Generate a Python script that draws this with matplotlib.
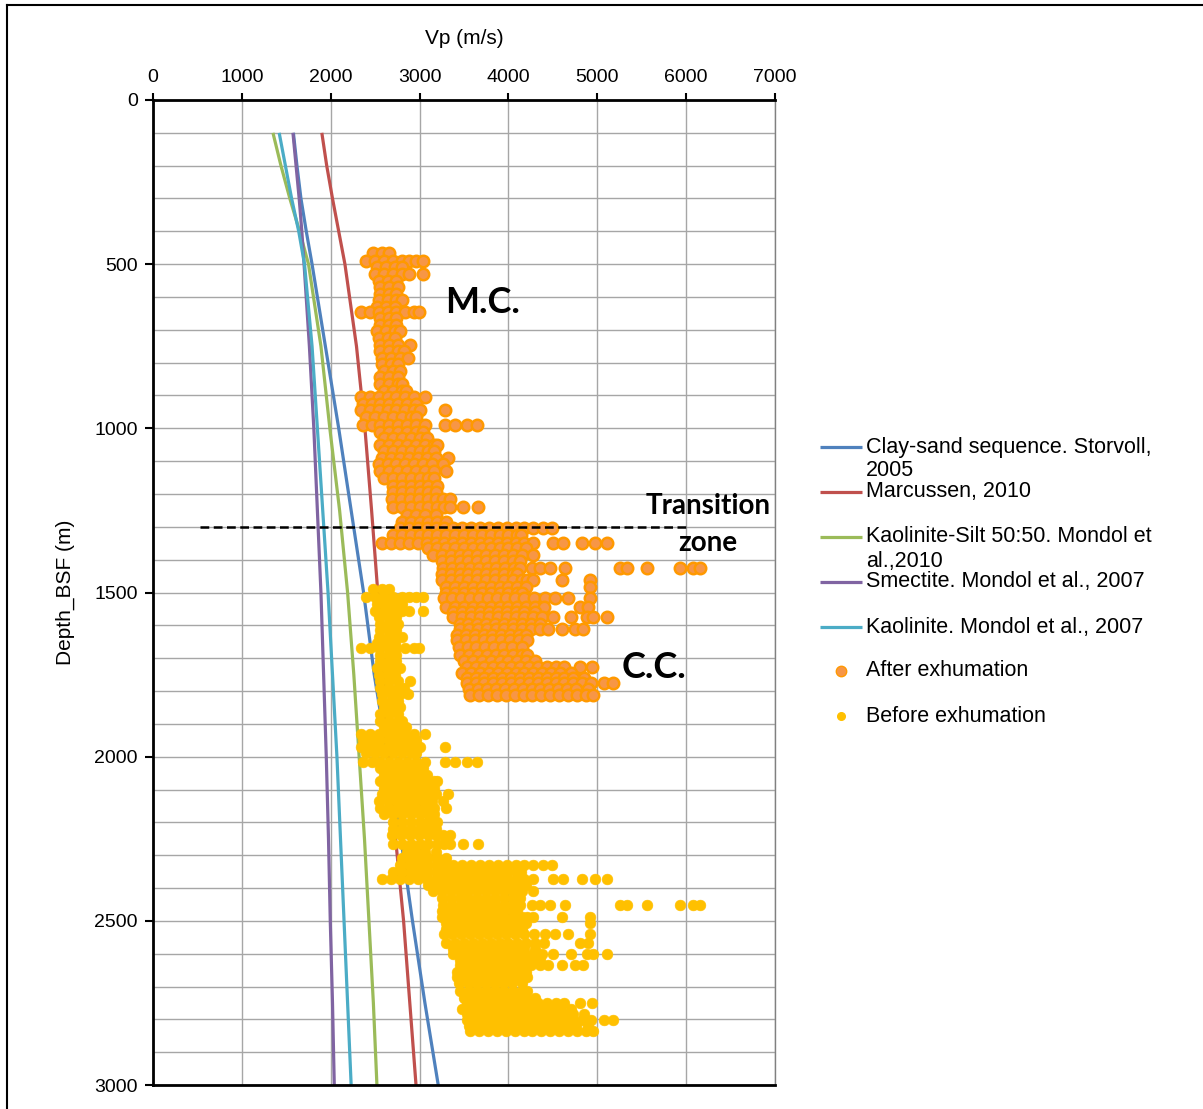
import matplotlib
matplotlib.use("Agg")
import matplotlib.pyplot as plt
from matplotlib.lines import Line2D
import numpy as np

plt.rcParams['font.family'] = ['Liberation Sans', 'DejaVu Sans']

# ---------------- data ----------------
curve_depth = [100, 200, 300, 400, 500, 750, 1000, 1250, 1500, 1750, 2000, 2250, 2500, 2750, 3000]
vp_storvoll = [1580, 1620, 1665, 1725, 1790, 1940, 2090, 2230, 2370, 2490, 2640, 2790, 2920, 3060, 3210]
vp_marcussen = [1900, 1955, 2020, 2090, 2160, 2290, 2385, 2460, 2530, 2590, 2650, 2730, 2820, 2890, 2960]
vp_kaol_silt = [1350, 1440, 1540, 1650, 1750, 1890, 1990, 2100, 2190, 2260, 2320, 2380, 2430, 2480, 2520]
vp_smectite = [1575, 1610, 1645, 1675, 1700, 1760, 1810, 1850, 1890, 1920, 1950, 1975, 1995, 2020, 2040]
vp_kaolinite = [1420, 1490, 1560, 1640, 1705, 1790, 1850, 1910, 1970, 2020, 2070, 2110, 2150, 2190, 2230]

curve_labels = [["Clay-sand sequence. Storvoll,", "2005"],
                ["Marcussen, 2010"],
                ["Kaolinite-Silt 50:50. Mondol et", "al.,2010"],
                ["Smectite. Mondol et al., 2007"],
                ["Kaolinite. Mondol et al., 2007"]]
scatter_labels = ["After exhumation", "Before exhumation"]

# measured Vp rows (after exhumation): depth of row (m) and Vp values (m/s) of the dots in that row
row_depth = [465, 490, 510, 530, 550, 570, 590, 610, 630, 645, 665, 685, 705, 725, 745, 765, 785,
             805, 825, 845, 865, 885, 905, 925, 945, 965, 990, 1010, 1030, 1050, 1070, 1090, 1110,
             1130, 1150, 1175, 1195, 1215, 1240, 1265, 1285, 1305, 1325, 1348, 1365, 1385, 1405,
             1426, 1445, 1462, 1482, 1500, 1516, 1543, 1560, 1575, 1595, 1610, 1630, 1645, 1665,
             1690, 1710, 1726, 1745, 1760, 1777, 1795, 1812]
row_vp = [
    [2480, 2580, 2660],
    [2400, 2500, 2600, 2700, 2800, 2880, 2960, 3040],
    [2520, 2620, 2720, 2800],
    [2500, 2600, 2700, 2800, 2880, 3040],
    [2540, 2640, 2740],
    [2560, 2660, 2760],
    [2560, 2660, 2740],
    [2540, 2640, 2740, 2800],
    [2520, 2620, 2720],
    [2340, 2440, 2540, 2640, 2740, 2840, 2940, 2990],
    [2560, 2660, 2740],
    [2560, 2660, 2740],
    [2520, 2620, 2720, 2780],
    [2540, 2640, 2720],
    [2560, 2660, 2760, 2890],
    [2560, 2660, 2760, 2820],
    [2580, 2680, 2780, 2870],
    [2580, 2680, 2760],
    [2600, 2700, 2780],
    [2560, 2660, 2760],
    [2560, 2660, 2760, 2800],
    [2600, 2700, 2800, 2850],
    [2340, 2440, 2540, 2640, 2740, 2840, 2940, 3060],
    [2360, 2460, 2560, 2660, 2760, 2860, 2960],
    [2340, 2440, 2540, 2640, 2740, 2840, 2940, 3000, 3290],
    [2400, 2500, 2600, 2700, 2800, 2900, 2960],
    [2360, 2460, 2560, 2660, 2760, 2860, 2960, 3060, 3290, 3400, 3530, 3650],
    [2560, 2660, 2760, 2860, 2960, 3040],
    [2600, 2700, 2800, 2900, 3000, 3080],
    [2560, 2660, 2760, 2860, 2960, 3060, 3160, 3200],
    [2600, 2700, 2800, 2900, 3000, 3100, 3160],
    [2580, 2680, 2780, 2880, 2980, 3080, 3180, 3320],
    [2540, 2640, 2740, 2840, 2940, 3040, 3140, 3260],
    [2560, 2660, 2760, 2860, 2960, 3060, 3160, 3300],
    [2600, 2700, 2800, 2900, 3000, 3100, 3160],
    [2700, 2800, 2900, 3000, 3100, 3200],
    [2700, 2800, 2900, 3000, 3100, 3180],
    [2690, 2790, 2890, 2990, 3090, 3190, 3260, 3340],
    [2700, 2800, 2900, 3000, 3100, 3200, 3280, 3340, 3490, 3660],
    [2860, 2960, 3060, 3180],
    [2800, 2900, 3000, 3100, 3200, 3300],
    [2780, 2880, 2980, 3080, 3180, 3280, 3380, 3480, 3580, 3680, 3780, 3880, 3980, 4080, 4180, 4280, 4390, 4490],
    [2700, 2800, 2900, 3000, 3100, 3200, 3300, 3400, 3500, 3600, 3700, 3800, 3900, 4000, 4100, 4140],
    [2580, 2680, 2780, 2880, 2980, 3080, 3180, 3280, 3380, 3480, 3580, 3680, 3780, 3880, 3980, 4080, 4180, 4280,
     4500, 4615, 4830, 4975, 5110],
    [3100, 3200, 3300, 3400, 3500, 3600, 3700, 3800, 3900, 4000, 4100, 4200],
    [3150, 3250, 3350, 3450, 3550, 3650, 3750, 3850, 3950, 4050, 4150, 4280],
    [3250, 3350, 3450, 3550, 3650, 3750, 3850, 3950, 4050, 4130],
    [3265, 3365, 3465, 3565, 3665, 3765, 3865, 3965, 4065, 4130, 4265, 4355, 4470, 4640,
     5255, 5330, 5560, 5930, 6080, 6155],
    [3250, 3350, 3450, 3550, 3650, 3750, 3850, 3950, 4050, 4100],
    [3250, 3350, 3450, 3550, 3650, 3750, 3850, 3950, 4050, 4150, 4210, 4280, 4600, 4920],
    [3300, 3400, 3500, 3600, 3700, 3800, 3900, 4000, 4100, 4200, 4920],
    [3300, 3400, 3500, 3600, 3700, 3800, 3900, 4000, 4100, 4150],
    [3270, 3370, 3470, 3570, 3670, 3770, 3870, 3970, 4070, 4170, 4290, 4410, 4525, 4670, 4920],
    [3300, 3400, 3500, 3600, 3700, 3800, 3900, 4000, 4100, 4200, 4300, 4400, 4800, 4890],
    [3380, 3480, 3580, 3680, 3780, 3880, 3980, 4080, 4180, 4300],
    [3380, 3480, 3580, 3680, 3780, 3880, 3980, 4080, 4180, 4280, 4380, 4500, 4700, 4880, 4950, 5110],
    [3450, 3550, 3650, 3750, 3850, 3950, 4050, 4150, 4250, 4350],
    [3455, 3555, 3655, 3755, 3855, 3955, 4055, 4155, 4255, 4355, 4450, 4600, 4750, 4840],
    [3420, 3520, 3620, 3720, 3820, 3920, 4020, 4120, 4200],
    [3420, 3520, 3620, 3720, 3820, 3920, 4020, 4120, 4210],
    [3440, 3540, 3640, 3740, 3840, 3940, 4040, 4150],
    [3455, 3555, 3655, 3755, 3855, 3955, 4055, 4155, 4210],
    [3500, 3600, 3700, 3800, 3900, 4000, 4100, 4200, 4300],
    [3530, 3630, 3730, 3830, 3930, 4030, 4130, 4230, 4330, 4430, 4530, 4630, 4800, 4940],
    [3480, 3580, 3680, 3780, 3880, 3980, 4080, 4180, 4280, 4380, 4480, 4580, 4700],
    [3530, 3630, 3730, 3830, 3930, 4030, 4130, 4230, 4330, 4430, 4530, 4630, 4730, 4850],
    [3530, 3630, 3730, 3830, 3930, 4030, 4130, 4230, 4330, 4430, 4530, 4630, 4730, 4830, 4930, 5070, 5180],
    [3560, 3660, 3760, 3860, 3960, 4060, 4160, 4260, 4360, 4460, 4560, 4660, 4760, 4900],
    [3570, 3670, 3770, 3870, 3970, 4070, 4170, 4270, 4370, 4470, 4570, 4670, 4770, 4870, 4950],
]
# the "before exhumation" cloud is the same log plotted deeper by the exhumation amount
exhumation_shift_m = 1025

transition_depth = 1300
transition_vp_range = [530, 6000]

# ---------------- figure ----------------
W, H = 1203, 1109
fig = plt.figure(figsize=(W / 100, H / 100), dpi=100)
fig.patch.set_facecolor('white')


def fx(px):
    return px / W


def fy(py):
    return 1 - py / H


ax = fig.add_axes([fx(153), fy(1085), (775 - 153) / W, (1085 - 100) / H])
ax.set_xlim(0, 7000)
ax.set_ylim(3000, 0)

# grid
ax.set_xticks(range(0, 7001, 1000))
ax.set_yticks(range(0, 3001, 500))
ax.set_yticks(range(0, 3001, 100), minor=True)
ax.grid(which='both', axis='y', color='#A6A6A6', lw=1.0, zorder=0)
ax.grid(which='major', axis='x', color='#A6A6A6', lw=1.0, zorder=0)
ax.set_axisbelow(True)

ax.xaxis.tick_top()
ax.xaxis.set_label_position('top')
ax.tick_params(axis='x', which='major', direction='out', length=5, width=1.5, pad=5, labelsize=14)
ax.tick_params(axis='y', which='major', direction='out', length=6, width=1.5, pad=5, labelsize=14)
ax.tick_params(axis='y', which='minor', length=0)
for s in ['left', 'top', 'bottom']:
    ax.spines[s].set_color('black')
    ax.spines[s].set_linewidth(2.0)
ax.spines['right'].set_color('#808080')
ax.spines['right'].set_linewidth(1.0)

ax.set_xlabel('Vp (m/s)', fontsize=15, labelpad=18)
ax.set_ylabel('Depth_BSF (m)', fontsize=15, labelpad=14)

# curves
curve_colors = ['#4F81BD', '#C0504D', '#9BBB59', '#8064A2', '#4BACC6']
curve_values = [vp_storvoll, vp_marcussen, vp_kaol_silt, vp_smectite, vp_kaolinite]
for vals, c in zip(curve_values, curve_colors):
    ax.plot(vals, curve_depth, color=c, lw=2.3, solid_capstyle='butt', zorder=2)

# scatter
after_vp, after_depth = [], []
for d, vals in zip(row_depth, row_vp):
    after_vp.extend(vals)
    after_depth.extend([d] * len(vals))
after_vp = np.array(after_vp)
after_depth = np.array(after_depth)
before_depth = after_depth + exhumation_shift_m

ax.scatter(after_vp, after_depth, s=68, facecolor='#F79646', edgecolor='#FF9900', lw=1.8, zorder=3)
ax.scatter(after_vp, before_depth, s=60, facecolor='#FFC000', edgecolor='#FFC000', lw=0.4, zorder=3)

# transition line
ax.plot(transition_vp_range, [transition_depth, transition_depth], color='black', lw=1.8,
        dashes=(3.5, 1.8), zorder=4)

bold = dict(family=['Lato', 'DejaVu Sans'], fontweight='bold', color='black')
ax.text(3712, 618, 'M.C.', fontsize=26, ha='center', va='center', zorder=5, **bold)
ax.text(5636, 1728, 'C.C.', fontsize=26, ha='center', va='center', zorder=5, **bold)
ax.text(6245, 1236, 'Transition', fontsize=20, ha='center', va='center', zorder=5, **bold)
ax.text(6245, 1348, 'zone', fontsize=20, ha='center', va='center', zorder=5, **bold)

# legend (manual)
leg_y = [447, 492, 537, 582, 627]
for lab, c, y in zip(curve_labels, curve_colors, leg_y):
    fig.add_artist(Line2D([fx(820), fx(862)], [fy(y), fy(y)], color=c, lw=2.3, solid_capstyle='butt'))
    fig.text(fx(866), fy(y), lab[0], fontsize=15.5, ha='left', va='center')
    if len(lab) > 1:
        fig.text(fx(866), fy(y + 24), lab[1], fontsize=15.5, ha='left', va='center')
fig.add_artist(Line2D([fx(841)], [fy(671)], marker='o', ms=7.5, mfc='#F79646', mec='#FF9900', mew=1.0, ls='none'))
fig.text(fx(866), fy(671), scatter_labels[0], fontsize=15.5, ha='left', va='center')
fig.add_artist(Line2D([fx(841)], [fy(716)], marker='o', ms=5.5, mfc='#FFC000', mec='#FFC000', ls='none'))
fig.text(fx(866), fy(716), scatter_labels[1], fontsize=15.5, ha='left', va='center')

# outer frame
fig.add_artist(Line2D([fx(7), fx(7)], [0, fy(5)], color='black', lw=1.5))
fig.add_artist(Line2D([fx(7), 1], [fy(5), fy(5)], color='black', lw=1.5))

fig.savefig('out.png', dpi=100, facecolor='white')
